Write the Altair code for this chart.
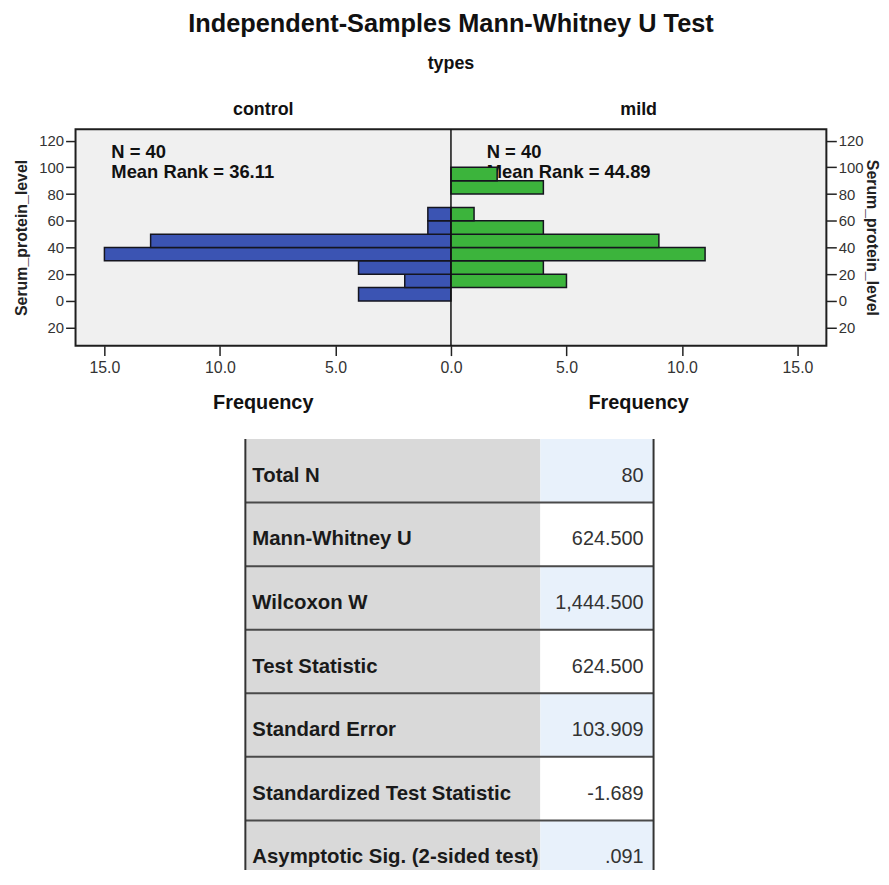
import altair as alt
import pandas as pd

# ---------------- data ----------------
bin_starts = [0, 10, 20, 30, 40, 50, 60, 70, 80, 90]
bin_width = 10
control_counts = [4, 2, 4, 15, 13, 1, 1, 0, 0, 0]
mild_counts = [0, 5, 4, 11, 9, 4, 1, 0, 4, 2]
groups = ["control", "mild"]
group_n = [40, 40]
mean_ranks = ["36.11", "44.89"]

y_ticks = [-20, 0, 20, 40, 60, 80, 100, 120]
x_ticks = [-15, -10, -5, 0, 5, 10, 15]

title_text = "Independent-Samples Mann-Whitney U Test"
facet_title = "types"
axis_y_title = "Serum_protein_level"
axis_x_title = "Frequency"

table_labels = ["Total N", "Mann-Whitney U", "Wilcoxon W", "Test Statistic",
                "Standard Error", "Standardized Test Statistic",
                "Asymptotic Sig. (2-sided test)"]
table_values = ["80", "624.500", "1,444.500", "624.500", "103.909", "-1.689", ".091"]

# ---------------- layout / style ----------------
FONT = "Liberation Sans"
W, H = 756, 218
X_DOMAIN = [-16.25, 16.25]
Y_DOMAIN = [-33.5, 128.6]
ANN_X = [-14.7, 1.55]
ANN_Y = [111.5, 96.7]
HALF_X = [X_DOMAIN[0] / 2, X_DOMAIN[1] / 2]

rows = []
for g, counts, sign in [(groups[0], control_counts, -1), (groups[1], mild_counts, 1)]:
    for b, c in zip(bin_starts, counts):
        if c > 0:
            rows.append({"group": g, "lo": b, "hi": b + bin_width,
                         "count": c, "signed": sign * c, "zero": 0})
bars_df = pd.DataFrame(rows)

xs = alt.Scale(domain=X_DOMAIN, nice=False, zero=False)
ys = alt.Scale(domain=Y_DOMAIN, nice=False, zero=False)
color_scale = alt.Scale(domain=groups, range=["#3b54b3", "#3cb43c"])


def y_axis(orient, tpad):
    return alt.Axis(orient=orient, values=y_ticks, labelExpr="'' + abs(datum.value)",
                    title=axis_y_title, grid=False, domain=False, tickSize=10,
                    tickWidth=1.5, tickColor="#222", labelFont=FONT, labelFontSize=15,
                    labelColor="#333", labelPadding=2, labelFlush=False,
                    titleFont=FONT, titleFontSize=16, titleFontWeight="bold",
                    titleColor="#222", titlePadding=tpad)


x_axis = alt.Axis(values=x_ticks, labelExpr="format(abs(datum.value), '.1f')", title=None,
                  grid=False, domain=False, tickSize=10, tickWidth=1.5, tickColor="#222",
                  labelFont=FONT, labelFontSize=16, labelColor="#333", labelPadding=4,
                  labelFlush=False)


def xenc(field):
    return alt.X(field, scale=xs, axis=x_axis)


ann_df = pd.DataFrame({
    "x": ANN_X,
    "n_label": [f"N = {n}" for n in group_n],
    "mr_label": [f"Mean Rank = {m}" for m in mean_ranks],
    "y1": [ANN_Y[0]] * 2,
    "y2": [ANN_Y[1]] * 2,
})

ann_style = dict(align="left", baseline="middle", font=FONT, fontWeight="bold",
                 fontSize=18.5, color="#111")
ann_n = alt.Chart(ann_df).mark_text(**ann_style).encode(
    x=xenc("x:Q"), y=alt.Y("y1:Q", scale=ys, axis=None), text="n_label:N")
ann_mr = alt.Chart(ann_df).mark_text(**ann_style).encode(
    x=xenc("x:Q"), y=alt.Y("y2:Q", scale=ys, axis=None), text="mr_label:N")

bar_style = dict(stroke="#15151f", strokeWidth=1.5)
bars_control = alt.Chart(bars_df[bars_df.group == groups[0]]).mark_bar(**bar_style).encode(
    x=xenc("signed:Q"),
    x2="zero:Q",
    y=alt.Y("lo:Q", scale=ys, axis=y_axis("left", 9)),
    y2="hi:Q",
    color=alt.Color("group:N", scale=color_scale, legend=None),
)
bars_mild = alt.Chart(bars_df[bars_df.group == groups[1]]).mark_bar(**bar_style).encode(
    x=xenc("signed:Q"),
    x2="zero:Q",
    y=alt.Y("lo:Q", scale=ys, axis=y_axis("right", 0)),
    y2="hi:Q",
    color=alt.Color("group:N", scale=color_scale, legend=None),
)

center_rule = alt.Chart(pd.DataFrame({"x": [0]})).mark_rule(color="#111", strokeWidth=1.5).encode(
    x=xenc("x:Q"))

txt = dict(font=FONT, fontWeight="bold", color="#111", baseline="middle")
title_mark = alt.Chart(pd.DataFrame({"x": [0], "t": [title_text]})).mark_text(
    fontSize=25.5, **txt).encode(x=xenc("x:Q"), y=alt.value(-106), text="t:N")
types_mark = alt.Chart(pd.DataFrame({"x": [0], "t": [facet_title]})).mark_text(
    fontSize=18, **txt).encode(x=xenc("x:Q"), y=alt.value(-66), text="t:N")
group_mark = alt.Chart(pd.DataFrame({"x": HALF_X, "t": groups})).mark_text(
    fontSize=18, **txt).encode(x=xenc("x:Q"), y=alt.value(-19), text="t:N")
freq_mark = alt.Chart(pd.DataFrame({"x": HALF_X, "t": [axis_x_title] * 2})).mark_text(
    fontSize=20, **txt).encode(x=xenc("x:Q"), y=alt.value(276), text="t:N")

top = alt.layer(ann_n, ann_mr, bars_control, bars_mild, center_rule,
                title_mark, types_mark, group_mark, freq_mark).resolve_axis(
    y="independent").properties(
    width=W, height=H,
    view=alt.ViewBackground(fill="#f0f0f0", stroke="#1e1e1e", strokeWidth=2))

# ---------------- table ----------------
TW, TH = 582, 434
ROW_PX = 64
col_edges = [171, 468, 582]
n_rows = len(table_labels)

tbl_df = pd.DataFrame({
    "label": table_labels,
    "value": table_values,
    "y0": list(range(n_rows)),
    "y1": [i + 1 for i in range(n_rows)],
    "yt": [i + 0.58 for i in range(n_rows)],
    "x0": [col_edges[0]] * n_rows,
    "x1": [col_edges[1]] * n_rows,
    "x2": [col_edges[2]] * n_rows,
    "shade": ["tint" if i % 2 == 0 else "plain" for i in range(n_rows)],
})
tx = alt.Scale(domain=[0, TW], nice=False, zero=False)
ty = alt.Scale(domain=[0, TH / ROW_PX], reverse=True, nice=False, zero=False)

label_cells = alt.Chart(tbl_df).mark_rect(clip=True, color="#d9d9d9").encode(
    x=alt.X("x0:Q", scale=tx, axis=None), x2="x1:Q",
    y=alt.Y("y0:Q", scale=ty, axis=None), y2="y1:Q")
value_cells = alt.Chart(tbl_df).mark_rect(clip=True).encode(
    x=alt.X("x1:Q", scale=tx, axis=None), x2="x2:Q",
    y=alt.Y("y0:Q", scale=ty, axis=None), y2="y1:Q",
    color=alt.Color("shade:N", scale=alt.Scale(domain=["tint", "plain"],
                                               range=["#e8f1fb", "#ffffff"]), legend=None))
label_text = alt.Chart(tbl_df).mark_text(align="left", baseline="middle", dx=7, font=FONT,
                                         fontWeight="bold", fontSize=20.5, color="#1a1a1a").encode(
    x=alt.X("x0:Q", scale=tx, axis=None), y=alt.Y("yt:Q", scale=ty, axis=None), text="label:N")
value_text = alt.Chart(tbl_df).mark_text(align="right", baseline="middle", dx=-10, font=FONT,
                                         fontSize=20, color="#333").encode(
    x=alt.X("x2:Q", scale=tx, axis=None), y=alt.Y("yt:Q", scale=ty, axis=None), text="value:N")
sep_df = pd.DataFrame({"y": list(range(1, n_rows)), "xa": col_edges[0], "xb": col_edges[2]})
separators = alt.Chart(sep_df).mark_rule(color="#4a4a4a", strokeWidth=2).encode(
    y=alt.Y("y:Q", scale=ty, axis=None), x=alt.X("xa:Q", scale=tx, axis=None), x2="xb:Q")
borders = alt.Chart(pd.DataFrame({"x": [col_edges[0], col_edges[2]]})).mark_rule(
    color="#333", strokeWidth=2).encode(x=alt.X("x:Q", scale=tx, axis=None))

table = alt.layer(label_cells, value_cells, separators, borders, label_text, value_text).properties(
    width=TW, height=TH)

chart = alt.vconcat(top, table, spacing=23).resolve_scale(color="independent").configure_view(
    stroke="transparent").properties(
    padding={"left": 4, "top": 0, "right": 0, "bottom": 0})

chart.save("out.html", embed_options={"renderer": "svg", "actions": False})
